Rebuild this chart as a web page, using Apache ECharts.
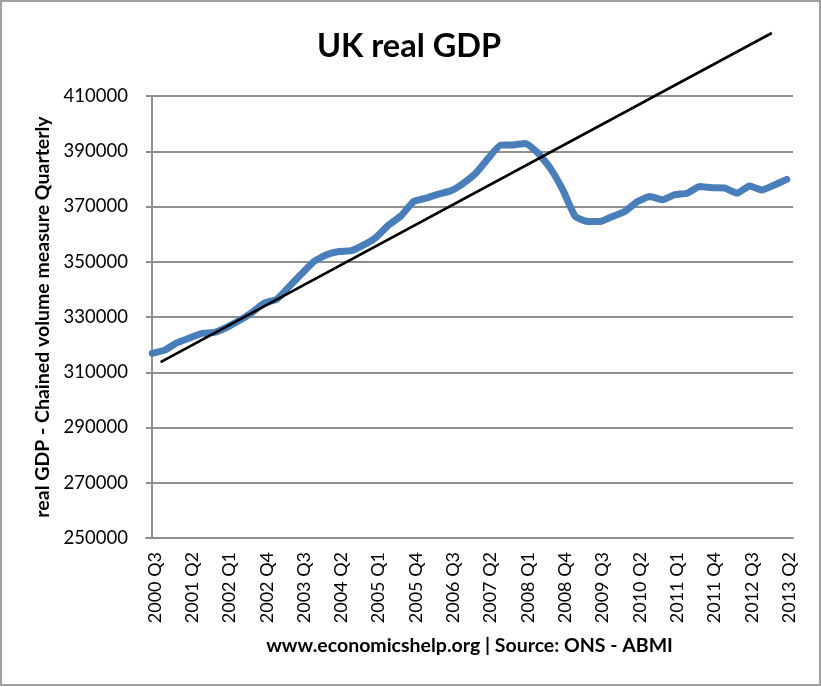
<!DOCTYPE html>
<html>
<head>
<meta charset="utf-8">
<style>
html,body{margin:0;padding:0;background:#fff;}
#c{position:absolute;left:0;top:0;width:821px;height:687px;}
</style>
<script src="https://cdn.jsdelivr.net/npm/echarts@6/dist/echarts.min.js"></script>
</head>
<body>
<div id="c"></div>
<script>
const categories = [
 '2000 Q3','2000 Q4','2001 Q1','2001 Q2','2001 Q3','2001 Q4','2002 Q1','2002 Q2','2002 Q3','2002 Q4',
 '2003 Q1','2003 Q2','2003 Q3','2003 Q4','2004 Q1','2004 Q2','2004 Q3','2004 Q4','2005 Q1','2005 Q2',
 '2005 Q3','2005 Q4','2006 Q1','2006 Q2','2006 Q3','2006 Q4','2007 Q1','2007 Q2','2007 Q3','2007 Q4',
 '2008 Q1','2008 Q2','2008 Q3','2008 Q4','2009 Q1','2009 Q2','2009 Q3','2009 Q4','2010 Q1','2010 Q2',
 '2010 Q3','2010 Q4','2011 Q1','2011 Q2','2011 Q3','2011 Q4','2012 Q1','2012 Q2','2012 Q3','2012 Q4',
 '2013 Q1','2013 Q2'];
const gdp = [
 316800,318000,320700,322400,324100,324400,326300,328700,331600,335000,
 336400,341000,345600,350100,352500,353700,354000,356100,358900,363300,
 366600,371800,373000,374500,375700,378400,382000,387400,392200,392300,
 392800,389400,383800,376000,366400,364600,364600,366400,368300,371800,
 373600,372400,374300,374800,377200,376800,376700,374800,377400,376000,
 377800,379800];
const trendPoints = [[0.67,313700],[49.8,432800]];
const titleText = 'UK real GDP';
const yName = 'real GDP - Chained volume measure Quarterly';
const xName = 'www.economicshelp.org | Source: ONS - ABMI';

const font = 'Lato';
const gray = '#8f8f8f';
const chart = echarts.init(document.getElementById('c'), null, {renderer:'canvas'});
chart.setOption({
  animation:false,
  backgroundColor:'#fff',
  title:{text:titleText,left:404,top:25,textAlign:'center',
    textStyle:{fontFamily:font,fontSize:32.5,fontWeight:'bold',color:'#000'}},
  graphic:[{type:'rect',shape:{x:1,y:1,width:819,height:684},silent:true,
    style:{fill:'none',stroke:'#a0a0a0',lineWidth:2}}],
  grid:{left:146,top:96,width:647,height:442,containLabel:false},
  xAxis:[{type:'category',data:categories,boundaryGap:true,
    name:xName,nameLocation:'middle',nameGap:98,
    nameTextStyle:{fontFamily:font,fontSize:19.5,fontWeight:'bold',color:'#000'},
    axisLine:{lineStyle:{color:gray,width:2}},
    axisTick:{show:false},
    axisLabel:{interval:2,rotate:90,margin:14,verticalAlign:'top',lineHeight:5,fontFamily:font,fontSize:18,color:'#000'},
    splitLine:{show:false}},
   {type:'value',min:-0.5,max:51.5,show:false,position:'bottom',splitLine:{show:false}}],
  yAxis:{type:'value',min:250000,max:410000,interval:20000,
    name:yName,nameLocation:'middle',nameGap:86,nameRotate:90,
    nameTextStyle:{fontFamily:font,fontSize:19.5,fontWeight:'bold',color:'#000'},
    axisLine:{show:true,lineStyle:{color:gray,width:2}},
    axisTick:{show:true,length:6,lineStyle:{color:gray,width:2}},
    axisLabel:{margin:18,fontFamily:font,fontSize:18.5,color:'#000',formatter:function(v){return String(v);}},
    splitLine:{show:true,lineStyle:{color:gray,width:2}}},
  series:[
    {type:'line',data:gdp,showSymbol:false,smooth:0.15,clip:false,
      lineStyle:{color:'#4a7ebb',width:7,cap:'round',join:'round'},z:2},
    {type:'line',xAxisIndex:1,data:trendPoints,showSymbol:false,clip:false,
      lineStyle:{color:'#000',width:2.6},z:3}
  ]
});
</script>
</body>
</html>
